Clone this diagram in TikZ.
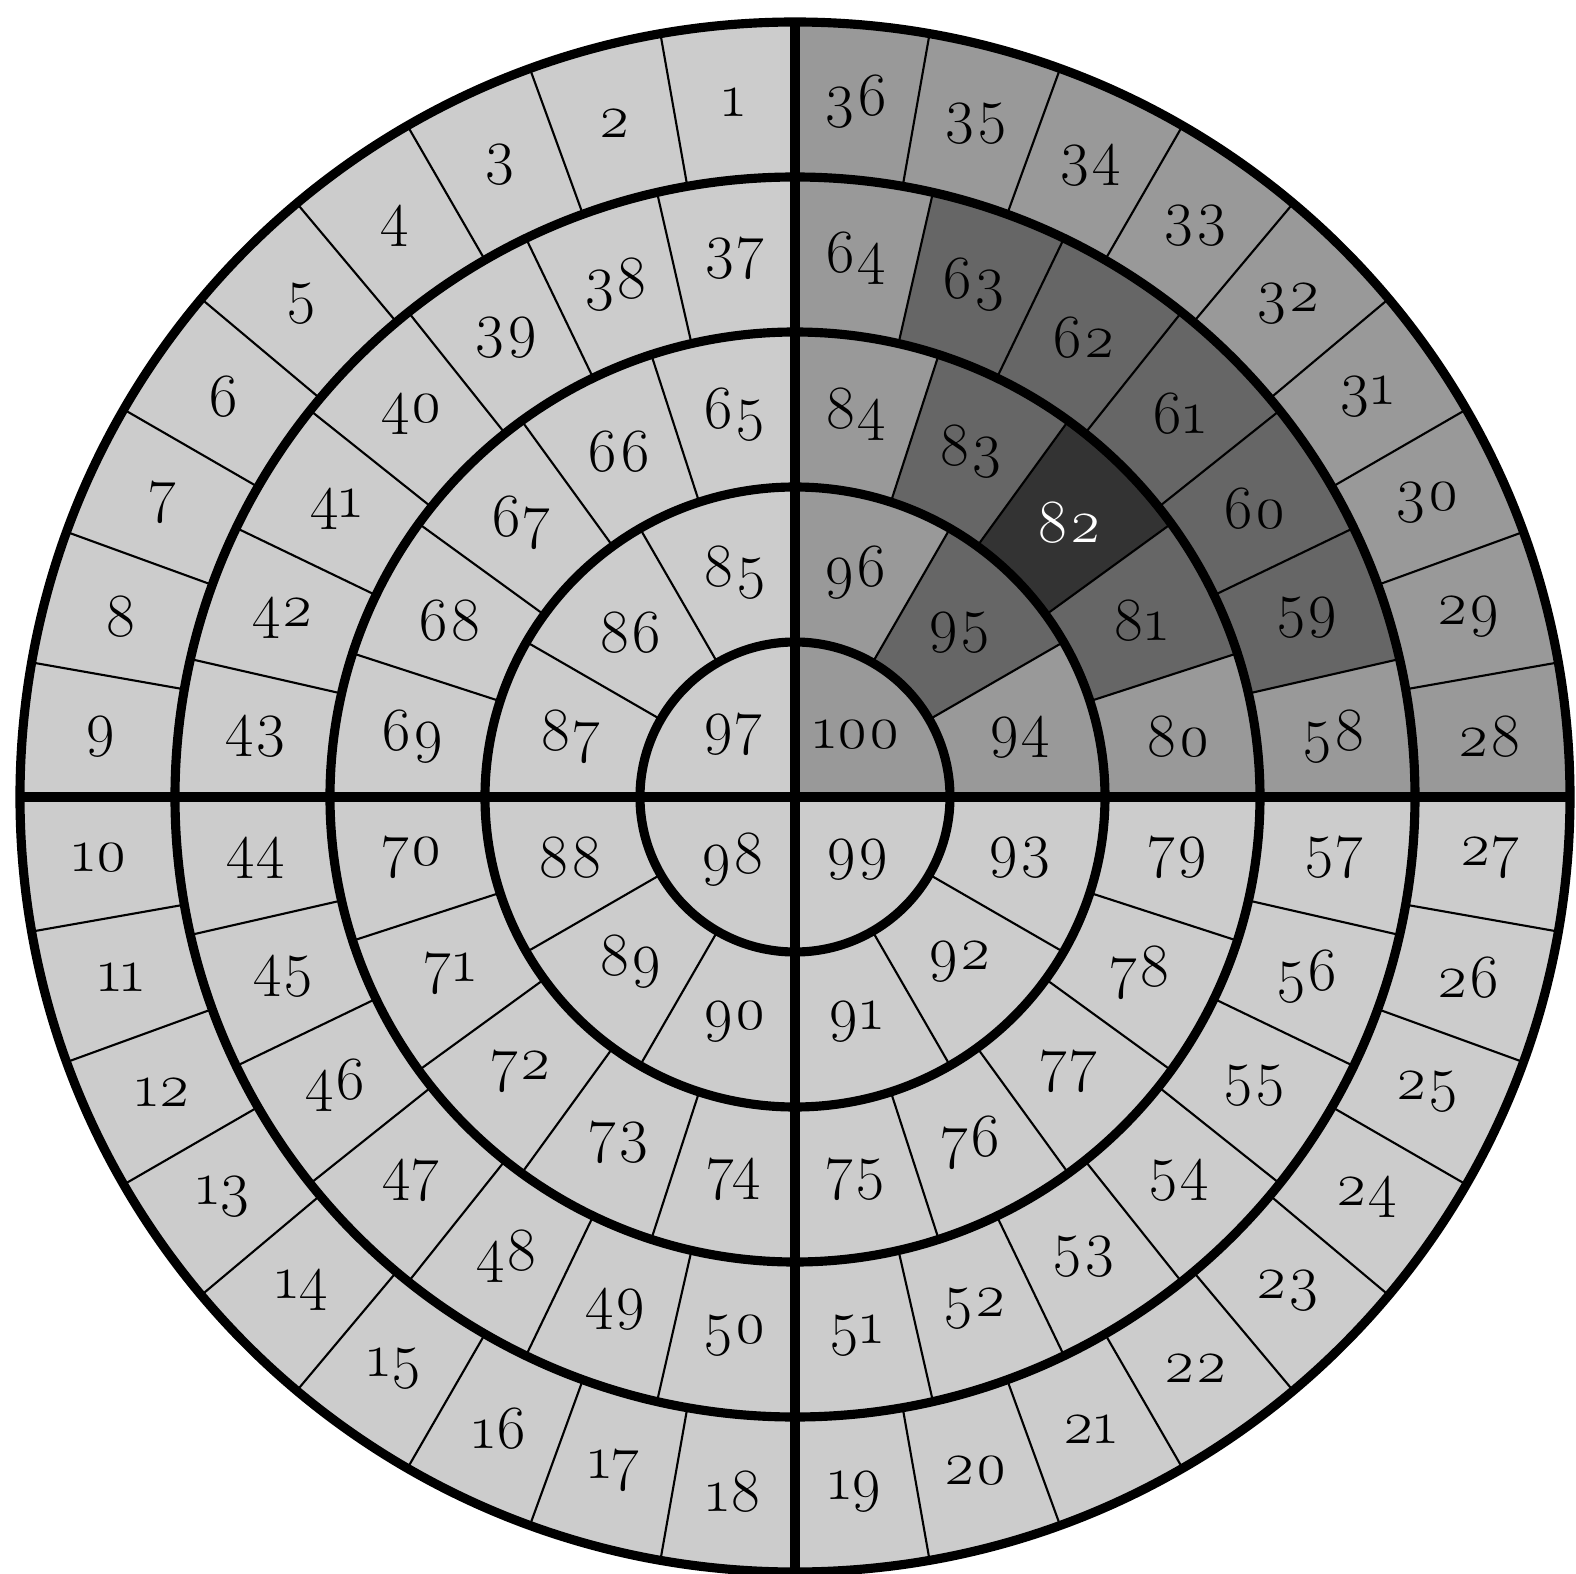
\documentclass[tikz,border=0pt]{standalone}
\usepackage{fontspec}
\setmainfont{Latin Modern Roman}[Numbers=OldStyle]
\begin{document}
\begin{tikzpicture}[
	% Define the styles for the rings and the cells
	ring/.style={line width=2.6pt},
	divider/.style={line width=0.6pt},
	cell/.style={font=\fontsize{17.5}{20}\selectfont, inner sep=0pt},
	light/.style={fill=black!20},
	medium/.style={fill=black!40},
	dark/.style={fill=black!60},
	darkest/.style={fill=black!80}
	]
	
	\useasboundingbox (-7.95,-7.76) rectangle (7.81,7.97);
	
	% --- FILLS ---
	% Light disc, medium quadrant, then the darker cells on top
	
	\fill[light] (0,0) circle (7.75);
	\fill[medium] (0,0) -- (7.75,0) arc (0:90:7.75) -- cycle;
	\fill[dark] (12.857:4.65) arc (12.857:77.143:4.65) -- (77.143:6.2) arc (77.143:12.857:6.2) -- cycle;
	\fill[dark] (18:3.1) arc (18:72:3.1) -- (72:4.65) arc (72:18:4.65) -- cycle;
	\fill[dark] (30:1.55) arc (30:60:1.55) -- (60:3.1) arc (60:30:3.1) -- cycle;
	\fill[darkest] (36:3.1) arc (36:54:3.1) -- (54:4.65) arc (54:36:4.65) -- cycle;
	\fill[white] (0,4.44) circle (0.035);
	
	% --- CELLS ---
	% Format: cells per quadrant / inner radius / outer radius / first number
	
	\foreach \n/\ri/\ro/\s in {9/6.2/7.75/1, 7/4.65/6.2/37, 5/3.1/4.65/65, 3/1.55/3.1/85} {
		\pgfmathtruncatemacro{\last}{4*\n-1}
		\foreach \k in {0,...,\last} {
			\pgfmathsetmacro{\a}{90+\k*90/\n}
			\pgfmathtruncatemacro{\num}{\s+\k}
			\draw[divider] (\a:\ri) -- (\a:\ro);
			\node[cell] (c\num) at ({\a+45/\n}:{(\ri+\ro)/2}) {\ifnum\num=82 \color{white}\fi\num};
		}
	}
	
	\node[cell] (c97) at (135:0.88) {97};
	\node[cell] (c98) at (225:0.88) {98};
	\node[cell] (c99) at (315:0.88) {99};
	\node[cell] (c100) at (45:0.88) {100};
	
	% --- RINGS ---
	
	\foreach \r in {1.55,3.1,4.65,6.2,7.75}
		\draw[ring] (0,0) circle (\r);
	\draw[ring] (-7.75,0) -- (7.75,0);
	\draw[ring] (0,-7.75) -- (0,7.75);
	
\end{tikzpicture}
\end{document}
